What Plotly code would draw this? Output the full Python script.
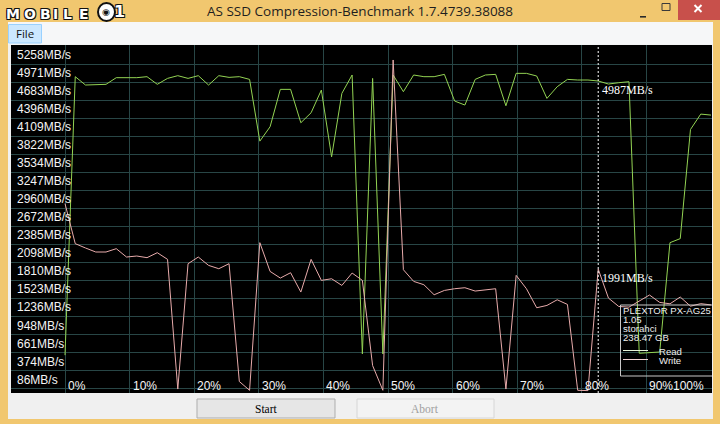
import plotly.graph_objects as go

# ---------------- data ----------------
read_mbs = [620, 5056, 4923, 4923, 4934, 5040, 5040, 5040, 5056, 4934,
            5029, 5072, 5029, 5072, 4923, 5072, 5045, 5056, 5013, 4029,
            4258, 4854, 4854, 4322, 4481, 4843, 3779, 4790, 5083, 640,
            5029, 640, 5083, 4817, 5083, 5056, 5056, 5093, 4668, 4604,
            5013, 5083, 5093, 4593, 5109, 5109, 5067, 4710, 4896, 5013,
            5003, 5003, 4987, 4939, 4960, 4976, 650, 660, 670, 2412,
            2476, 4215, 4460, 4444]
write_mbs = [3034, 2396, 2327, 2263, 2263, 2316, 2183, 2199, 2173, 2252,
             2146, 80, 2077, 2183, 2050, 1997, 2077, 200, 60, 2412,
             1954, 1848, 1933, 1625, 2146, 1811, 1837, 1731, 1928, 1811,
             454, 60, 5322, 1981, 1795, 1742, 1582, 1651, 1678, 1694,
             1641, 1662, 1678, 80, 1891, 1678, 1375, 1412, 1502, 1428,
             60, 55, 1991, 1529, 1396, 1385, 1481, 1578, 1460, 1438,
             1546, 1400, 1440, 1420]
y_tick_values = [86, 374, 661, 948, 1236, 1523, 1810, 2098, 2385, 2672,
                 2960, 3247, 3534, 3822, 4109, 4396, 4683, 4971, 5258]
y_tick_labels = [f"{v}MB/s" for v in y_tick_values]
x_tick_values = [0, 10, 20, 30, 40, 50, 60, 70, 80, 90, 100]
x_tick_labels = [f"{v}%" for v in x_tick_values]
cursor_index = 52
device_info = ["PLEXTOR PX-AG25", "1.05", "storahci", "238.47 GB"]
series_names = ["Read", "Write"]
window_title = "AS SSD Compression-Benchmark 1.7.4739.38088"

n = len(read_mbs)
progress = [i * 100 / (n - 1) for i in range(n)]

# ---------------- geometry (pixels) ----------------
FW, FH = 720, 424
PL, PR, PT, PB = 11, 712, 45, 393


def fx(x):
    return (x - PL) / (PR - PL)


def fy(y):
    return (PB - y) / (PB - PT)


FRAME = "#F1C76F"
CLIENT = "#F0F0F0"
GRID = "#284646"
READ_C = "#93D353"
WRITE_C = "#E8ABAB"
SANS = "Liberation Sans, Arial, sans-serif"
SERIF = "Liberation Serif, Times New Roman, serif"
UI = "Open Sans, Noto Sans, sans-serif"

shapes = []


def rect(x0, y0, x1, y1, fill=None, line=None, lw=1, layer="below"):
    shapes.append(dict(type="rect", xref="paper", yref="paper",
                       x0=fx(x0), x1=fx(x1), y0=fy(y1), y1=fy(y0),
                       fillcolor=fill if fill else "rgba(0,0,0,0)",
                       line=dict(color=line if line else "rgba(0,0,0,0)",
                                 width=lw if line else 0),
                       layer=layer))


def seg(x0, y0, x1, y1, color, lw=1, layer="above", dash="solid"):
    shapes.append(dict(type="line", xref="paper", yref="paper",
                       x0=fx(x0), x1=fx(x1), y0=fy(y0), y1=fy(y1),
                       line=dict(color=color, width=lw, dash=dash),
                       layer=layer))


# window chrome
rect(8, 22, 713, 419, fill=CLIENT)
rect(8, 22, 713, 44.5, fill="#F6F7F8")
rect(8.5, 24.5, 41.5, 43, fill="#CCE8FF", line="#99D1FF")
rect(PL, PT, PR, PB, fill="#000000")
rect(197, 399, 335, 418, fill="#E6E6E6", line="#ADADAD")
rect(357, 399, 494, 418, fill="#F3F3F3", line="#D6D6D6")
rect(678, 0, 720, 20, fill="#C8504B")
seg(694.5, 5, 701.5, 12, "#FFFFFF", 2)
seg(694.5, 12, 701.5, 5, "#FFFFFF", 2)
rect(662, 3.5, 670, 10.5, line="#3A3A3A")
rect(640, 16, 646, 17.6, fill="#2A2A2A")
# MOBILE01 logo badge circle
shapes.append(dict(type="circle", xref="paper", yref="paper",
                   x0=fx(98), x1=fx(115), y0=fy(21), y1=fy(3),
                   fillcolor="#FFFFFF", line=dict(color="#111111", width=2),
                   layer="above"))

# cursor line
shapes.append(dict(type="line", xref="x", yref="paper",
                   x0=progress[cursor_index], x1=progress[cursor_index],
                   y0=0, y1=1, line=dict(color="#FFFFFF", width=1, dash="2px,2px"),
                   layer="above"))

# device info box (transparent, clipped at plot edge)
BOX_C = "#C8C8C8"
seg(620.5, 305, 620.5, 376, BOX_C)
seg(620.5, 305, PR, 305, BOX_C)
seg(620.5, 376, PR, 376, BOX_C)
seg(623, 350.5, 648, 350.5, "#E6F5D8")
seg(623, 359.5, 648, 359.5, "#F2D4D4")

annotations = []


def text(x, y, s, size, color, family, xanchor="center", yanchor="middle", **kw):
    annotations.append(dict(xref="paper", yref="paper", x=fx(x), y=fy(y), text=s,
                            showarrow=False, xanchor=xanchor, yanchor=yanchor,
                            borderpad=0,
                            font=dict(size=size, color=color, family=family, **kw)))


text(360, 10.5, window_title, 13.5, "#1E1E1E", UI)
text(25, 33.5, "File", 11.5, "#111111", UI)
text(266, 408.5, "Start", 11.5, "#000000", SERIF)
text(425.5, 408.5, "Abort", 11.5, "#A0A0A0", SERIF)

outline = "-1px -1px 0 #111, 1px -1px 0 #111, -1px 1px 0 #111, 1px 1px 0 #111"
for ch, cx in zip("MOBILE", [12.5, 30, 45, 55.5, 67.5, 84]):
    text(cx, 14.5, ch, 14, "#FFFFFF", "DejaVu Sans", weight="bold", shadow=outline)
text(106.5, 12, "◉", 9, "#111111", "DejaVu Sans")
text(120, 12, "1", 16, "#FFFFFF", "DejaVu Sans", weight="bold", shadow=outline)

# y tick labels (drawn just above each grid line)
for v, lab in zip(y_tick_values, y_tick_labels):
    annotations.append(dict(xref="paper", yref="y", x=fx(15), y=v, text=lab,
                            showarrow=False, xanchor="left", yanchor="bottom",
                            font=dict(size=12, color="#F4F4F4", family=SANS)))

# x tick labels (right of each vertical grid line)
for v, lab in zip(x_tick_values, x_tick_labels):
    last = v == x_tick_values[-1]
    annotations.append(dict(xref="x", yref="paper", x=v, y=fy(386), text=lab,
                            showarrow=False, xanchor="right" if last else "left",
                            xshift=-5 if last else 1, yanchor="middle",
                            font=dict(size=12, color="#F4F4F4", family=SANS)))

# cursor value labels
for series in (read_mbs, write_mbs):
    annotations.append(dict(xref="x", yref="y", x=progress[cursor_index],
                            y=series[cursor_index],
                            text=f"{series[cursor_index]}MB/s", showarrow=False,
                            xanchor="left", yanchor="top", xshift=1.5,
                            font=dict(size=12, color="#FFFFFF", family=SERIF)))

# device info text
for line_txt, cy in zip(device_info, [310.5, 319.5, 328.5, 337.5]):
    text(621.5, cy, line_txt, 9.6, "#EEEEEE", SANS, xanchor="left")
for name, cy in zip(series_names, [351, 360]):
    text(658, cy, name, 9.6, "#EEEEEE", SANS, xanchor="left")

fig = go.Figure()
fig.add_trace(go.Scatter(x=progress, y=read_mbs, mode="lines", name=series_names[0],
                         line=dict(color=READ_C, width=1), hoverinfo="skip"))
fig.add_trace(go.Scatter(x=progress, y=write_mbs, mode="lines", name=series_names[1],
                         line=dict(color=WRITE_C, width=1), hoverinfo="skip"))

x0r = -(65 - PL) / 6.46
x1r = 100 + (PR - 711) / 6.46
mb_per_px = 15.93
y1r = 5258 + (64 - PT) * mb_per_px
y0r = 5258 - (PB - 64) * mb_per_px

fig.update_layout(
    width=FW, height=FH, autosize=False,
    margin=dict(l=PL, r=FW - PR, t=PT, b=FH - PB, pad=0),
    paper_bgcolor=FRAME, plot_bgcolor="#000000",
    showlegend=False,
    xaxis=dict(range=[x0r, x1r], tickvals=x_tick_values, showticklabels=False,
               showgrid=True, gridcolor=GRID, gridwidth=1, zeroline=False,
               showline=False, ticks="", fixedrange=True),
    yaxis=dict(range=[y0r, y1r], tickvals=y_tick_values, showticklabels=False,
               showgrid=True, gridcolor=GRID, gridwidth=1, zeroline=False,
               showline=False, ticks="", fixedrange=True),
    shapes=shapes,
    annotations=annotations,
)

fig.write_html("out.html", config={"displayModeBar": False},
               post_script="document.body.style.margin='0';"
                           "document.body.style.overflow='hidden';")
